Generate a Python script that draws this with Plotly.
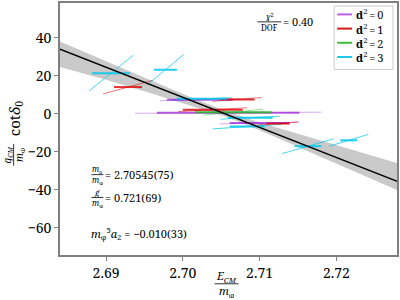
import plotly.graph_objects as go

# ---------------- data ----------------
# fit curve and error band
FIT_E = [2.684, 2.690, 2.695, 2.700, 2.7055, 2.710, 2.715, 2.720, 2.728]
FIT_Y = [33.9, 24.4, 16.5, 8.6, 0.0, -7.2, -15.1, -23.0, -35.7]
BAND_HI = [38.0, 27.5, 18.9, 10.3, 1.5, -4.6, -10.6, -16.6, -26.0]
BAND_LO = [24.5, 17.8, 11.8, 5.6, -1.5, -8.7, -17.4, -26.1, -40.3]

# data points: centre, horizontal half-error, correlated (diagonal) half-extent
E_d0 = [2.70221, 2.70591, 2.71000]
Y_d0 = [7.3, 0.5, -4.9]
EX_d0 = [0.00429, 0.00929, 0.00390]
DE_d0 = [0.00520, 0.01214, 0.00520]
DY_d0 = [0.5, 0.3, 0.5]

E_d1 = [2.69286, 2.70390, 2.70708, 2.71240]
Y_d1 = [14.0, 2.1, 7.5, -5.2]
EX_d1 = [0.00182, 0.00390, 0.00227, 0.00150]
DE_d1 = [0.00325, 0.00450, 0.00320, 0.00260]
DY_d1 = [3.6, 1.0, 1.0, 0.8]

E_d2 = [2.70656]
Y_d2 = [0.8]
EX_d2 = [0.00500]
DE_d2 = [0.00390]
DY_d2 = [1.6]

E_d3 = [2.69065, 2.69773, 2.70247, 2.70877, 2.70838, 2.71630, 2.72162]
Y_d3 = [21.3, 23.1, 7.8, -2.1, -6.8, -17.1, -14.0]
EX_d3 = [0.00247, 0.00149, 0.00325, 0.00292, 0.00227, 0.00175, 0.00110]
DE_d3 = [0.00286, 0.00240, 0.00390, 0.00390, 0.00450, 0.00338, 0.00253]
DY_d3 = [9.35, 8.05, 0.6, 0.8, 1.2, 3.9, 3.1]

GROUP_NAMES = ["0", "1", "2", "3"]
X_TICKS = [2.69, 2.70, 2.71, 2.72]
Y_TICKS = [-60, -40, -20, 0, 20, 40]

FIT_TEXT = ["2.70545(75)", "0.721(69)", "\u22120.010(33)"]
CHI2_TEXT = "0.40"

# ---------------- style ----------------
FONT = "Noto Serif"
COL_BAR = ["rgba(160,40,220,0.75)", "rgba(220,0,0,0.8)", "rgba(30,190,30,0.85)", "rgba(10,200,235,0.9)"]
COL_DIAG = ["rgba(160,40,220,0.4)", "rgba(220,0,0,0.55)", "rgba(30,190,30,0.45)", "rgba(10,200,235,0.75)"]
COL_LEG = ["#bf5fe6", "#d81818", "#3cc03c", "#1ec8ec"]

W, H = 400, 300
ML, MR, MT, MB = 60, 2, 1, 45
PW, PH = W - ML - MR, H - MT - MB


def px(xp):
    return (xp - ML) / PW


def py(yp):
    return (MT + PH - yp) / PH


fig = go.Figure()

# band
fig.add_trace(go.Scatter(x=FIT_E + FIT_E[::-1], y=BAND_HI + BAND_LO[::-1], fill="toself",
                         fillcolor="#c9c9c9", line=dict(width=0), mode="lines",
                         showlegend=False, hoverinfo="skip"))

groups = [(E_d0, Y_d0, EX_d0, DE_d0, DY_d0), (E_d1, Y_d1, EX_d1, DE_d1, DY_d1),
          (E_d2, Y_d2, EX_d2, DE_d2, DY_d2), (E_d3, Y_d3, EX_d3, DE_d3, DY_d3)]

for gi, (E, Y, EX, DE, DY) in enumerate(groups):
    dx, dy = [], []
    for e, y, de, dyy in zip(E, Y, DE, DY):
        dx += [e - de, e + de, None]
        dy += [y - dyy, y + dyy, None]
    fig.add_trace(go.Scatter(x=dx, y=dy, mode="lines", line=dict(color=COL_DIAG[gi], width=1),
                             showlegend=False, hoverinfo="skip"))
for gi, (E, Y, EX, DE, DY) in enumerate(groups):
    hx, hy = [], []
    for e, y, ex in zip(E, Y, EX):
        hx += [e - ex, e + ex, None]
        hy += [y, y, None]
    fig.add_trace(go.Scatter(x=hx, y=hy, mode="lines", line=dict(color=COL_BAR[gi], width=2),
                             name="d2=" + GROUP_NAMES[gi], showlegend=False, hoverinfo="skip"))

# fit line
fig.add_trace(go.Scatter(x=FIT_E, y=FIT_Y, mode="lines", line=dict(color="black", width=1.5),
                         showlegend=False, hoverinfo="skip"))

annotations = []
shapes = []


def text(x, y, s, size=12, xanchor="left", yanchor="middle", angle=0, height=None):
    a = dict(x=px(x), y=py(y), xref="paper", yref="paper", text=s, showarrow=False,
             xanchor=xanchor, yanchor=yanchor, textangle=angle, borderpad=0,
             font=dict(family=FONT, size=size, color="black"))
    if height is not None:
        a["height"] = height
    annotations.append(a)


def hline(x0, x1, y, color="black", width=0.8):
    shapes.append(dict(type="line", xref="paper", yref="paper", x0=px(x0), x1=px(x1),
                       y0=py(y), y1=py(y), line=dict(color=color, width=width)))


def frac(xc, yc, num, den, half, size=9, gap=5):
    text(xc, yc - gap, num, size=size, xanchor="center", height=2 * gap - 1)
    text(xc, yc + gap + 1, den, size=size, xanchor="center", height=2 * gap - 1)
    hline(xc - half, xc + half, yc)


# chi2/DOF
frac(270, 20, "<i>\u03c7</i><sup>2</sup>", "DOF", 12, size=8)
text(283, 20, "= " + CHI2_TEXT, size=11)

# fit results
frac(97.5, 174, "<i>m</i><sub>\u03c1</sub>", "<i>m</i><sub>\u03c6</sub>", 6, size=8)
text(104, 174, "= " + FIT_TEXT[0], size=11)
frac(97.5, 197, "<i>g</i>", "<i>m</i><sub>\u03c6</sub>", 6, size=8)
text(104, 197, "= " + FIT_TEXT[1], size=11)
text(90, 233, "<i>m</i><sub>\u03c6</sub><sup>5</sup><i>a</i><sub>2</sub> = " + FIT_TEXT[2], size=11)

# x-axis title
frac(227, 284, "<i>E<sub>CM</sub></i>", "<i>m</i><sub>\u03c6</sub>", 12, size=11, gap=7)

# y-axis title (rotated)
text(15, 118, "cot<i>\u03b4</i><sub>0</sub>", size=15, xanchor="center", angle=-90)
text(7.5, 154, "<i>q<sub>CM</sub></i>", size=10, xanchor="center", angle=-90, height=11)
text(20, 154, "<i>m</i><sub>\u03c6</sub>", size=10, xanchor="center", angle=-90, height=11)
shapes.append(dict(type="line", xref="paper", yref="paper", x0=px(13.5), x1=px(13.5),
                   y0=py(143), y1=py(165), line=dict(color="black", width=0.8)))

# legend (manual)
shapes.append(dict(type="rect", xref="paper", yref="paper", x0=px(335), x1=px(394),
                   y0=py(4), y1=py(68), line=dict(color="#cccccc", width=1), fillcolor="white",
                   layer="above"))
for i, nm in enumerate(GROUP_NAMES):
    yy = 12.5 + i * 14.3
    hline(338, 353, yy, color=COL_LEG[i], width=2)
    text(356, yy, "<b>d</b><sup>2</sup>\u2009=\u2009" + nm, size=11, height=12)

axis_common = dict(showline=True, linecolor="#7f7f7f", linewidth=1.5, mirror=True,
                   ticks="outside", ticklen=4, tickcolor="#7f7f7f", tickwidth=1,
                   showgrid=False, zeroline=False,
                   tickfont=dict(family=FONT, size=14, color="black"))

fig.update_layout(
    width=W, height=H,
    margin=dict(l=ML, r=MR, t=MT, b=MB),
    plot_bgcolor="white", paper_bgcolor="white",
    xaxis=dict(range=[2.684, 2.7279], tickvals=X_TICKS, ticktext=[f"{v:.2f}" for v in X_TICKS],
               **axis_common),
    yaxis=dict(range=[-74.3, 58.2], tickvals=Y_TICKS, **axis_common),
    annotations=annotations,
    shapes=shapes,
    showlegend=False,
)

fig.write_html("out.html", config={"displayModeBar": False},
               post_script="document.body.style.margin='0';document.body.style.overflow='hidden';")
